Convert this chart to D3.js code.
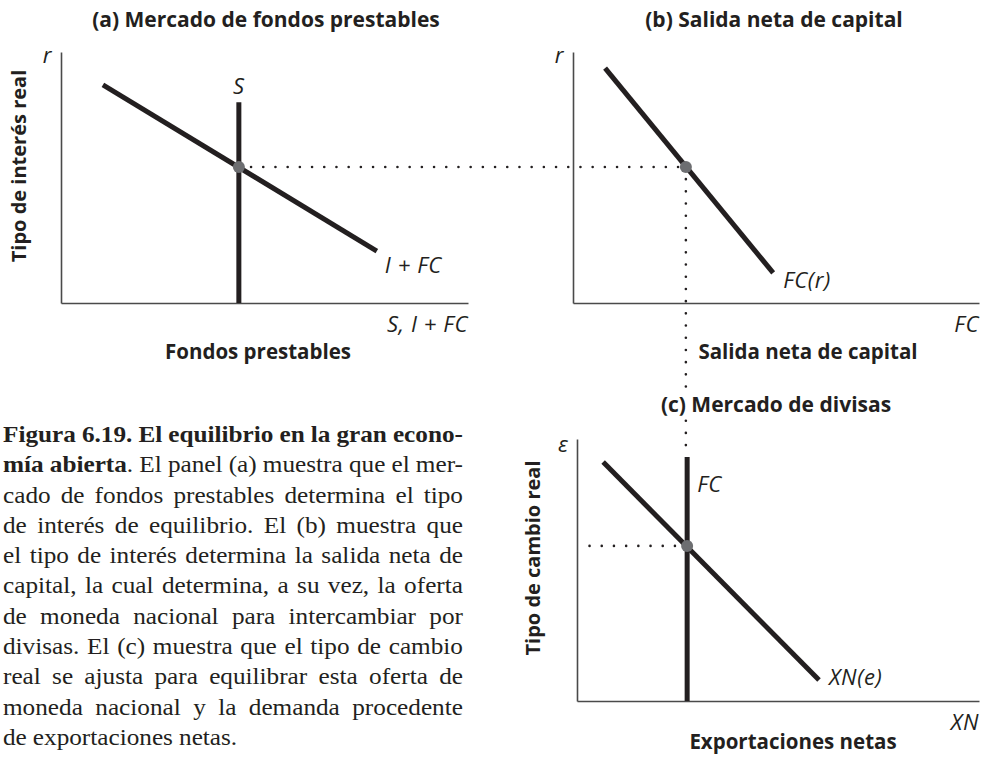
<!DOCTYPE html>
<html>
<head>
<meta charset="utf-8">
<script src="https://cdn.jsdelivr.net/npm/d3@7"></script>
<style>
  html, body { margin: 0; padding: 0; background: #ffffff; }
  svg { display: block; }
</style>
</head>
<body>
<svg id="chart" width="986" height="758"></svg>
<script>
// ---------------- DATA (abstract units, 0..10 on each axis) ----------------
const panelTitles = ["(a) Mercado de fondos prestables", "(b) Salida neta de capital", "(c) Mercado de divisas"];
const xAxisTitles = ["Fondos prestables", "Salida neta de capital", "Exportaciones netas"];
const yAxisTitles = ["Tipo de interés real", null, "Tipo de cambio real"];
const xAxisSymbols = ["S, I + FC", "FC", "XN"];
const yAxisSymbols = ["r", "r", "ε"];

// Panel (a): loanable funds
const investPlusFC = [{x: 1.03, y: 8.69}, {x: 7.76, y: 2.07}];   // I + FC
const savingS      = [{x: 4.37, y: 0.00}, {x: 4.37, y: 8.00}];   // S (vertical)
// Panel (b): net capital outflow
const fcOfR        = [{x: 0.79, y: 9.36}, {x: 4.93, y: 1.20}];   // FC(r)
// Panel (c): foreign exchange market
const xnOfE        = [{x: 0.65, y: 9.12}, {x: 6.02, y: 0.80}];   // XN(e)
const fcSupply     = [{x: 2.74, y: 0.00}, {x: 2.74, y: 9.31}];   // FC (vertical)

const equilibria = [{x: 4.37, y: 5.42}, {x: 2.78, y: 5.42}, {x: 2.74, y: 5.92}];

const curveLabels = [
  {panel: 0, text: "S",       x: 4.37, y: 8.00, anchor: "middle"},
  {panel: 0, text: "I + FC",  x: 7.76, y: 2.07, anchor: "start"},
  {panel: 1, text: "FC(r)",   x: 4.93, y: 1.20, anchor: "start"},
  {panel: 2, text: "FC",      x: 2.74, y: 9.31, anchor: "start"},
  {panel: 2, text: "XN(e)",   x: 6.02, y: 0.80, anchor: "start"}
];

const captionLines = [
  "**Figura 6.19. El equilibrio en la gran econo-",
  "mía abierta**. El panel (a) muestra que el mer-",
  "cado de fondos prestables determina el tipo",
  "de interés de equilibrio. El (b) muestra que",
  "el tipo de interés determina la salida neta de",
  "capital, la cual determina, a su vez, la oferta",
  "de moneda nacional para intercambiar por",
  "divisas. El (c) muestra que el tipo de cambio",
  "real se ajusta para equilibrar esta oferta de",
  "moneda nacional y la demanda procedente",
  "de exportaciones netas."
];

// ---------------- LAYOUT ----------------
const svg = d3.select("#chart");
const SANS = "'Open Sans', Lato, 'DejaVu Sans', sans-serif";
const SERIF = "'Liberation Serif', 'DejaVu Serif', serif";
const INK = "#231f20";
const AXIS = "#4a4a4a";
const DOT = "#6d6e71";

const panels = [
  {x0: 61,  x1: 468, y0: 303, y1: 52},
  {x0: 573, x1: 979, y0: 303, y1: 52},
  {x0: 577, x1: 979, y0: 701, y1: 439}
];
panels.forEach(p => {
  p.x = d3.scaleLinear().domain([0, 10]).range([p.x0, p.x1]);
  p.y = d3.scaleLinear().domain([0, 10]).range([p.y0, p.y1]);
});

// axes (no ticks, just axis lines)
panels.forEach(p => {
  svg.append("g").attr("transform", `translate(0,${p.y0})`)
    .call(d3.axisBottom(p.x).tickValues([]).tickSizeOuter(0))
    .call(g => g.select(".domain").attr("stroke", AXIS).attr("stroke-width", 1.6));
  svg.append("g").attr("transform", `translate(${p.x0},0)`)
    .call(d3.axisLeft(p.y).tickValues([]).tickSizeOuter(0))
    .call(g => g.select(".domain").attr("stroke", AXIS).attr("stroke-width", 1.6));
});

const BOLD = 21;
const titlePos = [[266, 27], [774, 27], [776, 412]];

// dotted guide lines
const dotted = (x1, y1, x2, y2) => svg.append("line")
  .attr("x1", x1).attr("y1", y1).attr("x2", x2).attr("y2", y2)
  .attr("stroke", INK).attr("stroke-width", 2.6)
  .attr("stroke-linecap", "round").attr("stroke-dasharray", "0,12.2");
const [pa, pb, pc] = panels;
const fcX = pb.x(equilibria[1].x);
dotted(pa.x(equilibria[0].x), pa.y(equilibria[0].y), fcX, pb.y(equilibria[1].y));
// vertical guide, interrupted where it crosses the title of panel (c)
dotted(fcX, pb.y(equilibria[1].y), fcX, titlePos[2][1] - 22);
dotted(fcX, pc.y(fcSupply[1].y) - 12, fcX, titlePos[2][1] + 8);
dotted(pc.x(equilibria[2].x), pc.y(equilibria[2].y), pc.x0 + 4, pc.y(equilibria[2].y));

// curves
const curves = [
  {panel: 0, data: investPlusFC},
  {panel: 0, data: savingS},
  {panel: 1, data: fcOfR},
  {panel: 2, data: xnOfE},
  {panel: 2, data: fcSupply}
];
curves.forEach(c => {
  const p = panels[c.panel];
  svg.append("path")
    .attr("d", d3.line().x(d => p.x(d.x)).y(d => p.y(d.y))(c.data))
    .attr("fill", "none").attr("stroke", INK).attr("stroke-width", 5);
});

// equilibrium points
equilibria.forEach((e, i) => {
  const p = panels[i];
  svg.append("circle").attr("cx", p.x(e.x)).attr("cy", p.y(e.y)).attr("r", 6).attr("fill", DOT);
});

// curve labels (italic)
const ITAL = 22;
const ITAL_LS = 0.6;
const labelOffsets = {"S": [0, -8], "I + FC": [8, 22], "FC(r)": [10, 15], "FC": [10, 35], "XN(e)": [10, 5]};
curveLabels.forEach(l => {
  const p = panels[l.panel];
  const off = labelOffsets[l.text];
  svg.append("text")
    .attr("x", p.x(l.x) + off[0]).attr("y", p.y(l.y) + off[1])
    .attr("text-anchor", l.anchor)
    .attr("font-family", SANS).attr("font-style", "italic").attr("font-size", ITAL)
    .attr("letter-spacing", ITAL_LS)
    .attr("fill", INK).text(l.text);
});

// axis symbols
xAxisSymbols.forEach((s, i) => {
  const p = panels[i];
  svg.append("text").attr("x", p.x1).attr("y", p.y0 + 29).attr("text-anchor", "end")
    .attr("font-family", SANS).attr("font-style", "italic").attr("font-size", ITAL)
    .attr("letter-spacing", ITAL_LS)
    .attr("fill", INK).text(s);
});
yAxisSymbols.forEach((s, i) => {
  const p = panels[i];
  svg.append("text").attr("x", p.x0 - 14).attr("y", p.y1 + (i === 2 ? 13 : 11)).attr("text-anchor", "middle")
    .attr("font-family", SANS).attr("font-style", "italic").attr("font-size", ITAL)
    .attr("fill", INK).text(s);
});

// panel titles
panelTitles.forEach((t, i) => {
  svg.append("text").attr("x", titlePos[i][0]).attr("y", titlePos[i][1]).attr("text-anchor", "middle")
    .attr("font-family", SANS).attr("font-weight", "bold").attr("font-size", BOLD)
    .attr("fill", INK).text(t);
});

// x axis titles
const xTitlePos = [[258, 359], [808, 359], [793, 749]];
xAxisTitles.forEach((t, i) => {
  svg.append("text").attr("x", xTitlePos[i][0]).attr("y", xTitlePos[i][1]).attr("text-anchor", "middle")
    .attr("font-family", SANS).attr("font-weight", "bold").attr("font-size", 20.5)
    .attr("fill", INK).text(t);
});

// y axis titles
const yTitlePos = [[18, 166], null, [532, 558]];
yAxisTitles.forEach((t, i) => {
  if (!t) return;
  svg.append("text")
    .attr("transform", `translate(${yTitlePos[i][0]},${yTitlePos[i][1]}) rotate(-90)`)
    .attr("text-anchor", "middle").attr("dominant-baseline", "central")
    .attr("font-family", SANS).attr("font-weight", "bold").attr("font-size", 20)
    .attr("fill", INK).text(t);
});

// caption (justified, with a global horizontal stretch to imitate a wide book serif)
const capLeft = 3, capRight = 463, capTop = 442, capLead = 30.3, minGap = 6;
let bold = false;
const capG = svg.append("g").attr("font-family", SERIF).attr("font-size", 23).attr("fill", INK);
const built = captionLines.map((line, li) => {
  const y = capTop + li * capLead;
  const words = line.split(" ");
  const nodes = words.map(w => {
    const t = capG.append("text").attr("y", y);
    w.split("**").forEach((part, pi) => {
      if (pi > 0) bold = !bold;
      if (part.length) t.append("tspan").attr("font-weight", bold ? "bold" : "normal").text(part);
    });
    return t;
  });
  const widths = nodes.map(n => n.node().getComputedTextLength());
  return {nodes, widths, total: d3.sum(widths)};
});
const W = capRight - capLeft;
const sx = d3.min(built.slice(0, -1), b => (W - minGap * (b.nodes.length - 1)) / b.total);
built.forEach((b, li) => {
  const last = li === built.length - 1;
  const gap = last ? minGap : (W - b.total * sx) / Math.max(1, b.nodes.length - 1);
  let x = capLeft;
  b.nodes.forEach((n, i) => {
    n.attr("transform", `translate(${x},0) scale(${sx},1)`).attr("x", 0);
    x += b.widths[i] * sx + gap;
  });
});
</script>
</body>
</html>
